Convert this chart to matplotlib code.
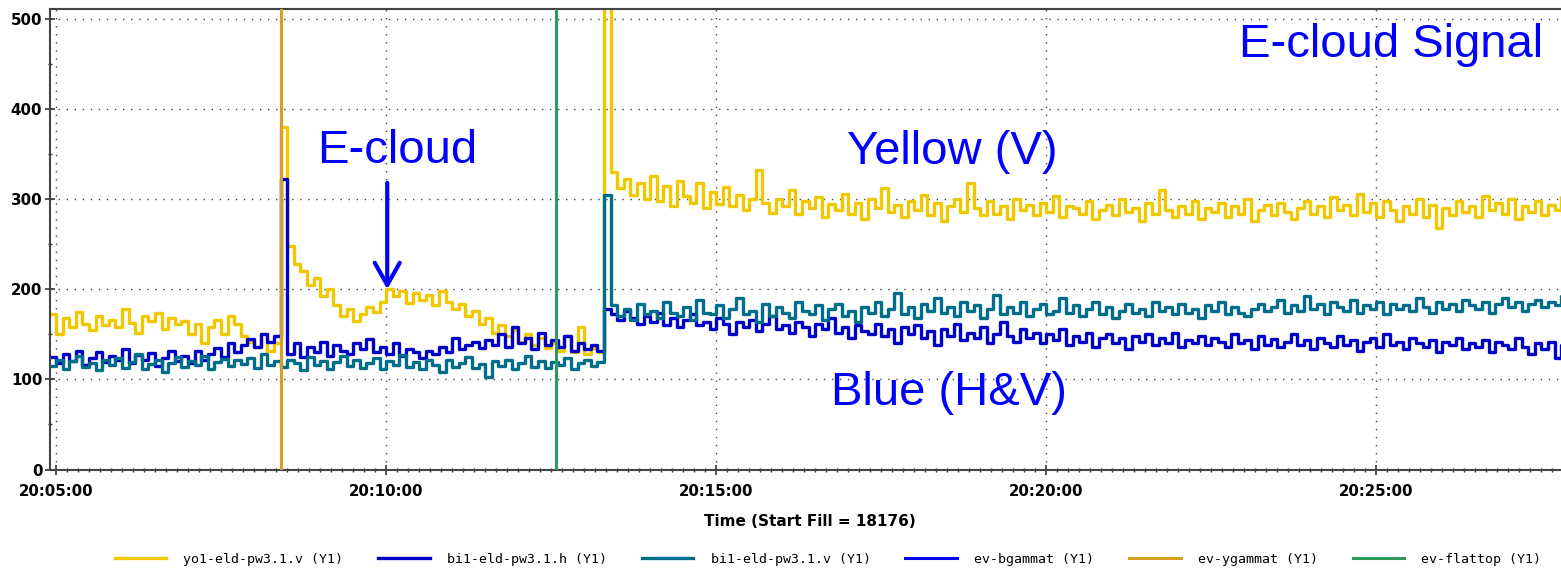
import datetime as dt
import matplotlib
matplotlib.use("Agg")
import matplotlib.pyplot as plt
import matplotlib.dates as mdates
from matplotlib.ticker import MultipleLocator

# logged e-cloud detector signals, one sample every 6 s
t_start = dt.datetime(2014, 5, 15, 20, 4, 54)
sample_s = 6

yo1_v = [
    172, 150, 168, 158, 175, 162, 155, 170, 160, 166,
    158, 178, 163, 152, 170, 165, 174, 156, 168, 161,
    165, 150, 162, 140, 158, 166, 150, 170, 162, 148,
    142, 136, 150, 132, 140,
    380, 248, 228, 220, 205, 212, 192, 200, 182, 170,
    178, 165, 172, 180, 175, 186, 200, 192, 198, 185,
    196, 188, 194, 182, 198, 186, 178, 184, 170, 176,
    162, 168, 152, 160, 148, 155, 142, 150, 138, 146,
    135, 140, 132, 148, 130, 158, 128, 135, 130,
    520,
    330, 312, 322, 305, 318, 300, 326, 298, 315, 292,
    320, 304, 296, 318, 290, 308, 295, 314, 292, 305,
    288, 300, 332, 296, 285, 300, 292, 310, 284, 298,
    290, 302, 280, 295, 288, 306, 284, 296, 278, 300,
    290, 312, 286, 294, 280, 298, 288, 305, 282, 296,
    276, 292, 300, 286, 318, 290, 282, 298, 284, 292,
    278, 300, 288, 294, 282, 296, 286, 304, 280, 292,
    290, 284, 298, 278, 288, 294, 282, 300, 286, 290,
    276, 296, 284, 310, 288, 280, 292, 284, 298, 278,
    290, 286, 296, 280, 292, 284, 300, 276, 288, 294,
    282, 296, 286, 278, 290, 298, 284, 292, 280, 302,
    288, 294, 282, 306, 286, 296, 280, 298, 288, 276,
    292, 284, 300, 280, 294, 268, 290, 282, 298, 286,
    292, 280, 304, 288, 296, 284, 300, 278, 292, 286,
    298, 282, 294, 288, 302, 286,
]

bi1_h = [
    125, 118, 128, 120, 132, 116, 124, 130, 119, 126,
    122, 134, 118, 127, 121, 129, 115, 124, 131, 120,
    126, 118, 132, 122, 128, 135, 125, 140, 130, 138,
    145, 136, 150, 142, 148,
    322, 128, 140, 125, 136, 130, 142, 126, 138, 132,
    128, 140, 134, 145, 130, 136, 128, 140, 126, 134,
    130, 124, 132, 128, 136, 130, 146, 134, 138, 142,
    135, 144, 138, 150, 136, 158, 140, 146, 134, 152,
    138, 144, 136, 148, 132, 140, 134, 138, 132,
    178,
    172, 166, 176, 168, 162, 170, 164, 174, 160, 168,
    158, 166, 172, 160, 164, 156, 168, 162, 150, 164,
    158, 166, 154, 162, 170, 156, 160, 152, 164, 158,
    148, 162, 156, 168, 152, 158, 146, 160, 154, 150,
    162, 148, 156, 140, 158, 150, 160, 146, 154, 138,
    156, 148, 162, 144, 152, 146, 158, 140, 150, 164,
    148, 142, 156, 146, 152, 140, 150, 144, 156, 138,
    148, 142, 152, 136, 146, 150, 140, 146, 134, 148,
    142, 150, 138, 146, 140, 152, 136, 144, 140, 148,
    138, 146, 142, 136, 150, 140, 144, 134, 148, 138,
    145, 136, 142, 150, 138, 144, 134, 146, 140, 136,
    148, 138, 144, 132, 142, 146, 136, 150, 138, 142,
    134, 146, 140, 136, 144, 130, 142, 138, 146, 134,
    140, 136, 144, 130, 142, 138, 134, 146, 136, 128,
    140, 134, 142, 124, 138, 136,
]

bi1_v = [
    115, 122, 112, 120, 126, 114, 118, 110, 121, 116,
    124, 113, 119, 128, 112, 117, 122, 108, 118, 125,
    114, 120, 116, 126, 112, 119, 123, 115, 121, 117,
    124, 113, 128, 116, 120,
    114, 122, 118, 110, 125, 116, 120, 112, 119, 126,
    115, 121, 113, 118, 124, 111, 120, 116, 127, 114,
    119, 112, 122, 116, 108, 121, 114, 118, 125, 113,
    117, 103, 120, 115, 122, 112, 118, 126, 114, 120,
    113, 119, 116, 124, 111, 118, 122, 115, 119,
    305,
    182, 170, 178, 166, 184, 172, 176, 168, 186, 174,
    170, 180, 166, 188, 174, 172, 182, 168, 178, 190,
    172, 176, 164, 184, 170, 180, 174, 168, 186, 176,
    172, 182, 166, 178, 184, 170, 176, 164, 180, 174,
    186, 170, 178, 196, 172, 180, 168, 184, 176, 190,
    174, 180, 170, 186, 176, 182, 168, 178, 194, 172,
    180, 174, 186, 170, 178, 184, 172, 176, 190, 174,
    182, 170, 178, 186, 172, 180, 168, 176, 184, 174,
    178, 170, 186, 176, 180, 172, 184, 174, 178, 168,
    182, 176, 186, 172, 180, 174, 170, 178, 184, 176,
    180, 188, 174, 182, 176, 192, 178, 184, 172, 186,
    180, 176, 188, 174, 182, 178, 186, 172, 184, 178,
    182, 176, 190, 180, 174, 186, 178, 184, 176, 188,
    182, 178, 186, 174, 184, 190, 180, 186, 176, 184,
    188, 180, 186, 182, 192, 184,
]

signal_labels = ["yo1-eld-pw3.1.v (Y1)", "bi1-eld-pw3.1.h (Y1)", "bi1-eld-pw3.1.v (Y1)"]
signal_colors = ["#efc800", "#0000c8", "#006e8a"]

# machine events
event_labels = ["ev-bgammat (Y1)", "ev-ygammat (Y1)", "ev-flattop (Y1)"]
event_times = [dt.datetime(2014, 5, 15, 20, 8, 24),
               dt.datetime(2014, 5, 15, 20, 8, 24),
               dt.datetime(2014, 5, 15, 20, 12, 34)]
event_colors = ["#0000ff", "#d8a020", "#2e9a5c"]

fill_no = 18176


def main():
    times = [t_start + dt.timedelta(seconds=sample_s * i) for i in range(len(yo1_v))]

    fig = plt.figure(figsize=(15.61, 5.70), dpi=100)
    W, H = 1561, 570
    # axes runs a bit past the right edge of the image
    ax = fig.add_axes([50 / W, (H - 469.5) / H, 1520 / W, 460.5 / H])

    handles = []
    for z, (vals, col) in enumerate(zip([yo1_v, bi1_h, bi1_v], signal_colors)):
        ln, = ax.plot(times, vals, drawstyle="steps-post", color=col, lw=2.4, zorder=2 + 0.1 * z)
        handles.append(ln)
    for t, col in zip(event_times, event_colors):
        handles.append(ax.axvline(t, color=col, lw=2.2, zorder=3))

    ax.set_ylim(0, 511)
    ax.set_xlim(dt.datetime(2014, 5, 15, 20, 4, 54, 500000), dt.datetime(2014, 5, 15, 20, 27, 56))

    ax.xaxis.set_major_locator(mdates.MinuteLocator(byminute=range(0, 60, 5)))
    ax.xaxis.set_minor_locator(mdates.SecondLocator(bysecond=range(0, 60, 10)))
    ax.xaxis.set_major_formatter(mdates.DateFormatter("%H:%M:%S"))
    ax.yaxis.set_major_locator(MultipleLocator(100))
    ax.yaxis.set_minor_locator(MultipleLocator(50))

    ax.grid(True, which="major", color="#444444", linestyle=(0, (1, 4.8)), lw=1.0)
    ax.tick_params(which="major", direction="inout", length=7, width=1.2, color="#333333")
    ax.tick_params(which="minor", direction="inout", length=3, width=1.0, color="#333333")
    ax.tick_params(axis="y", pad=2)
    ax.tick_params(axis="x", pad=7)
    for lab in ax.get_xticklabels() + ax.get_yticklabels():
        lab.set_fontweight("bold")
        lab.set_fontsize(10.8)
        lab.set_family("DejaVu Sans")

    for side in ["left", "bottom", "top"]:
        ax.spines[side].set_color("#444444")
        ax.spines[side].set_linewidth(1.5)
    ax.spines["right"].set_visible(False)

    ax.set_xlabel("Time (Start Fill = %d)" % fill_no, fontsize=11, fontweight="bold",
                  family="DejaVu Sans", labelpad=11)

    # annotations
    blue = "#0000ff"
    big = dict(fontsize=34, color=blue, family="Liberation Sans", va="baseline")
    ax.text(0.982, 0.896, "E-cloud Signal", transform=ax.transAxes, ha="right", **big)
    ax.text(dt.datetime(2014, 5, 15, 20, 8, 57), 340, "E-cloud", ha="left", **big)
    ax.text(dt.datetime(2014, 5, 15, 20, 16, 59), 339, "Yellow (V)", ha="left", **big)
    ax.text(dt.datetime(2014, 5, 15, 20, 16, 44), 72, "Blue (H&V)", ha="left", **big)
    arrow_t = dt.datetime(2014, 5, 15, 20, 10, 1)
    ax.annotate("", xy=(arrow_t, 200), xytext=(arrow_t, 318),
                arrowprops=dict(arrowstyle="->,head_length=0.8,head_width=0.45",
                                color=blue, lw=3, mutation_scale=20, shrinkA=0, shrinkB=0),
                zorder=5)

    fig.legend(handles, signal_labels + event_labels, loc="center",
               bbox_to_anchor=(828 / W, 1 - 559 / H), ncol=6, frameon=False,
               prop=dict(family="DejaVu Sans Mono", size=9.5),
               handlelength=3.9, handletextpad=1.3, columnspacing=2.65,
               borderpad=0, borderaxespad=0)

    fig.savefig("out.png", dpi=100)


if __name__ == "__main__":
    main()
